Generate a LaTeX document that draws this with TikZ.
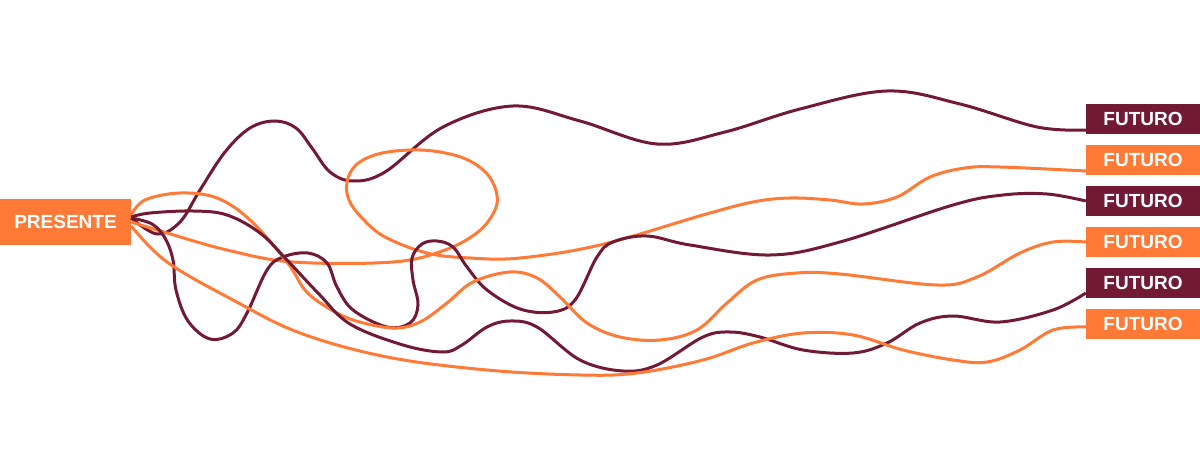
\documentclass[tikz,border=0pt]{standalone}
\usepackage{fontspec}
\setmainfont{Liberation Sans}
\definecolor{orng}{RGB}{255,122,54}
\definecolor{mrn}{RGB}{114,26,52}
\begin{document}
\begin{tikzpicture}[x=1pt,y=-1pt,
  boxo/.style={fill=orng,text=white,inner sep=0pt,font=\bfseries\fontsize{19}{21}\selectfont},
  boxm/.style={fill=mrn,text=white,inner sep=0pt,font=\bfseries\fontsize{19}{21}\selectfont},
  fut/.style={minimum width=114pt,minimum height=30pt},
  lineo/.style={draw=orng,line width=3pt},
  linem/.style={draw=mrn,line width=3pt},
  sm/.style={smooth,tension=0.6}]
\useasboundingbox (0,0) rectangle (1200,468);
\node[boxo,minimum width=131pt,minimum height=46pt] (P) at (65.5,222) {PRESENTE};
\node[boxm,fut] (F1) at (1143,119) {FUTURO};
\node[boxo,fut] (F2) at (1143,160) {FUTURO};
\node[boxm,fut] (F3) at (1143,201) {FUTURO};
\node[boxo,fut] (F4) at (1143,242) {FUTURO};
\node[boxm,fut] (F5) at (1143,283) {FUTURO};
\node[boxo,fut] (F6) at (1143,324) {FUTURO};
\coordinate (sA) at ([yshift=4pt]P.east);
\coordinate (sB) at ([yshift=0pt]P.east);
\coordinate (sC) at ([yshift=4pt]P.east);
\coordinate (sD) at ([yshift=7pt]P.east);
\coordinate (sE) at ([yshift=5pt]P.east);
\coordinate (sF) at ([yshift=-4pt]P.east);
\coordinate (eA) at ([yshift=-11pt]F1.west);
\coordinate (eB) at ([yshift=-11pt]F2.west);
\coordinate (eC) at ([yshift=0pt]F3.west);
\coordinate (eD) at ([yshift=0pt]F4.west);
\coordinate (eE) at ([yshift=-10pt]F5.west);
\coordinate (eF) at ([yshift=-3pt]F6.west);
% curve A
\draw[linem] plot[sm] coordinates {(sA) (157,234) (180,222) (200,190) (225,152) (250,128) (275,121) (296,128) (312,148) (330,172) (353,181) (385,172) (443,127) (513,106) (580,121) (657,144) (725,132) (800,109) (887,91) (960,104) (1037,127) (eA)};
% curve B
\draw[lineo] plot[sm] coordinates {(sB) (167,233) (227,250) (293,262) (393,262) (445,250) (478,232) (494,212) (497,195) (488,175) (468,160) (440,152) (410,150) (378,154) (356,165) (347,182) (349,200) (362,218) (385,237) (427,253) (470,258) (520,258) (600,245) (703,215) (753,202) (790,198) (830,200) (863,204) (897,197) (930,177) (965,168) (1000,167) (eB)};
% curve C
\draw[linem] plot[sm] coordinates {(sC) (152,224) (165,238) (173,260) (176,290) (188,321) (210,339) (233,333) (247,313) (267,270) (283,257) (308,253) (327,263) (337,287) (353,310) (387,327) (410,323) (418,305) (413,280) (412,258) (422,244) (437,241) (453,247) (467,267) (487,290) (520,309) (553,312) (575,300) (597,257) (613,242) (647,236) (690,245) (770,255) (840,242) (953,205) (1003,195) (1047,194) (eC)};
% curve D
\draw[lineo] plot[sm] coordinates {(sD) (145,200) (180,193) (217,198) (250,220) (287,262) (305,290) (325,306) (353,320) (393,328) (420,322) (447,303) (473,282) (510,272) (537,278) (560,297) (587,323) (620,337) (660,340) (697,330) (727,303) (757,280) (797,273) (840,274) (937,285) (977,277) (1020,253) (1053,242) (eD)};
% curve E
\draw[linem] plot[sm] coordinates {(sE) (150,213) (193,211) (227,215) (260,233) (287,260) (318,293) (350,324) (403,345) (443,352) (462,345) (487,327) (510,321) (537,327) (580,360) (623,371) (657,365) (703,337) (730,332) (760,337) (803,350) (853,353) (887,343) (920,323) (953,316) (1000,322) (1053,310) (eE)};
% curve F
\draw[lineo] plot[sm] coordinates {(sF) (167,262) (233,300) (300,333) (387,357) (487,370) (580,375) (637,373) (703,360) (753,343) (803,333) (853,335) (903,350) (953,360) (987,362) (1020,350) (1053,330) (eF)};
\end{tikzpicture}
\end{document}
